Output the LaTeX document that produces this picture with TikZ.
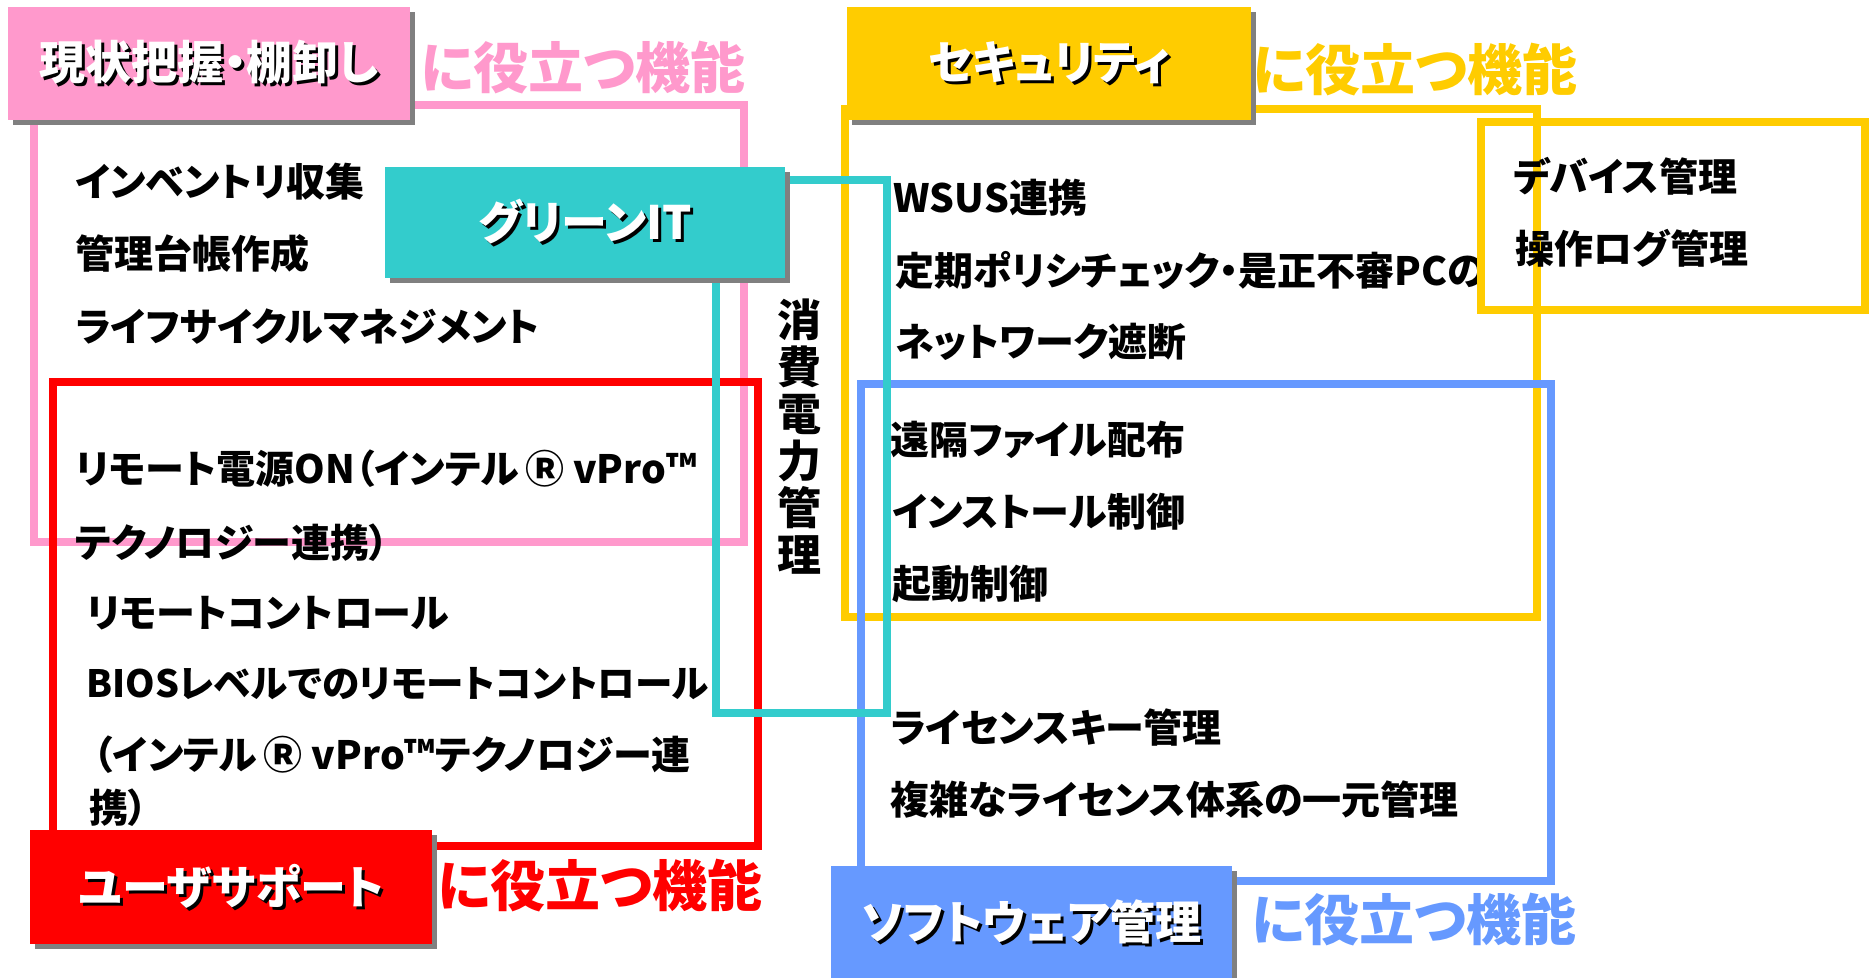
\documentclass[tikz,border=0pt]{standalone}
\usepackage{fontspec}
\setmainfont{Noto Sans CJK JP}[RawFeature=+palt]
\usetikzlibrary{shadows}
\definecolor{cpink}{HTML}{FF99CC}
\definecolor{cyellow}{HTML}{FFCC00}
\definecolor{cteal}{HTML}{33CCCC}
\definecolor{cred}{HTML}{FF0000}
\definecolor{cblue}{HTML}{6699FF}
\definecolor{cshadow}{HTML}{808080}
\newcommand\shtext[1]{\leavevmode\rlap{\kern1.5pt\raisebox{-1.5pt}{\textcolor{black}{#1}}}#1}
\newcommand\bigR{\,Ⓡ\ }
\begin{document}
\begin{tikzpicture}[x=0.5pt,y=-0.5pt,
  frame/.style={line width=3.75pt},
  hdr/.style={anchor=north west, inner sep=0pt, minimum height=56.5pt, text=white,
    font=\bfseries\fontsize{23}{27}\selectfont,
    drop shadow={shadow xshift=2.5pt, shadow yshift=-2.5pt, fill=cshadow, opacity=1}},
  uselbl/.style={anchor=center, inner sep=0pt, font=\bfseries\fontsize{27.5}{32}\selectfont},
  item/.style={anchor=west, inner sep=0pt, font=\bfseries\fontsize{19.5}{23}\selectfont},
]
\useasboundingbox (0,0) rectangle (1870,978);

% frames
\draw[frame, cpink] (34,105) rectangle (744,542);
\draw[frame, cred] (53,382) rectangle (758,846);
\draw[frame, cyellow] (845,109) rectangle (1537,617);
\draw[frame, cblue] (861,384) rectangle (1551,881);
\draw[frame, cteal] (716,180) rectangle (887,713);

% items: current state
\node[item] (i1) at (75,182) {インベントリ収集};
\node[item] (i2) at (75,254) {管理台帳作成};
\node[item] (i3) at (75,327) {ライフサイクルマネジメント};

% power
\node[item, anchor=center, align=center, font=\bfseries\fontsize{22}{23.5}\selectfont] (vt) at (799,437) {消\\費\\電\\力\\管\\理};

% security
\node[item] (s1) at (893,198) {WSUS連携};
\node[item] (s2) at (895,270) {定期ポリシチェック・是正不審PCの};
\node[item] (s3) at (895,342) {ネットワーク遮断};
\node[item] (d1) at (1513,176) {デバイス管理};
\node[item] (d2) at (1515,248) {操作ログ管理};

% software
\node[item] (b1) at (890,440) {遠隔ファイル配布};
\node[item] (b2) at (892,512) {インストール制御};
\node[item] (b3) at (892,584) {起動制御};
\node[item] (b4) at (890,728) {ライセンスキー管理};
\node[item] (b5) at (890,800) {複雑なライセンス体系の一元管理};

% user support
\node[item] (r1) at (75,469) {リモート電源ON（インテル\bigR vPro™};
\node[item] (r2) at (75,543) {テクノロジー連携）};
\node[item] (r3) at (86,613) {リモートコントロール};
\node[item, font=\bfseries\fontsize{18.8}{23}\selectfont] (r4) at (86,684) {BIOSレベルでのリモートコントロール};
\node[item] (r5) at (93,755) {（インテル\bigR vPro™テクノロジー連};
\node[item] (r6) at (89,808) {携）};

\draw[frame, cyellow] (1481,122) rectangle (1865,310);

% headers
\node[hdr, fill=cpink, minimum width=201pt] (hpink) at (8,7) {\shtext{現状把握・棚卸し}};
\node[hdr, fill=cteal, minimum width=200pt, minimum height=55.5pt] (hgreen) at (385,167) {\shtext{グリーンIT}};
\node[hdr, fill=cyellow, minimum width=202pt] (hyellow) at (847,7) {\shtext{セキュリティ}};
\node[hdr, fill=cred, minimum width=201pt, minimum height=57pt] (hred) at (30,830) {\shtext{ユーザサポート}};
\node[hdr, fill=cblue, minimum width=200.5pt, minimum height=57pt] (hblue) at (831,866) {\shtext{ソフトウェア管理}};

% labels
\node[uselbl, text=cpink] (upink) at (583,68) {に役立つ機能};
\node[uselbl, text=cyellow] (uyellow) at (1415,70) {に役立つ機能};
\node[uselbl, text=cred] (ured) at (600,886) {に役立つ機能};
\node[uselbl, text=cblue] (ublue) at (1414,920) {に役立つ機能};
\end{tikzpicture}
\end{document}
